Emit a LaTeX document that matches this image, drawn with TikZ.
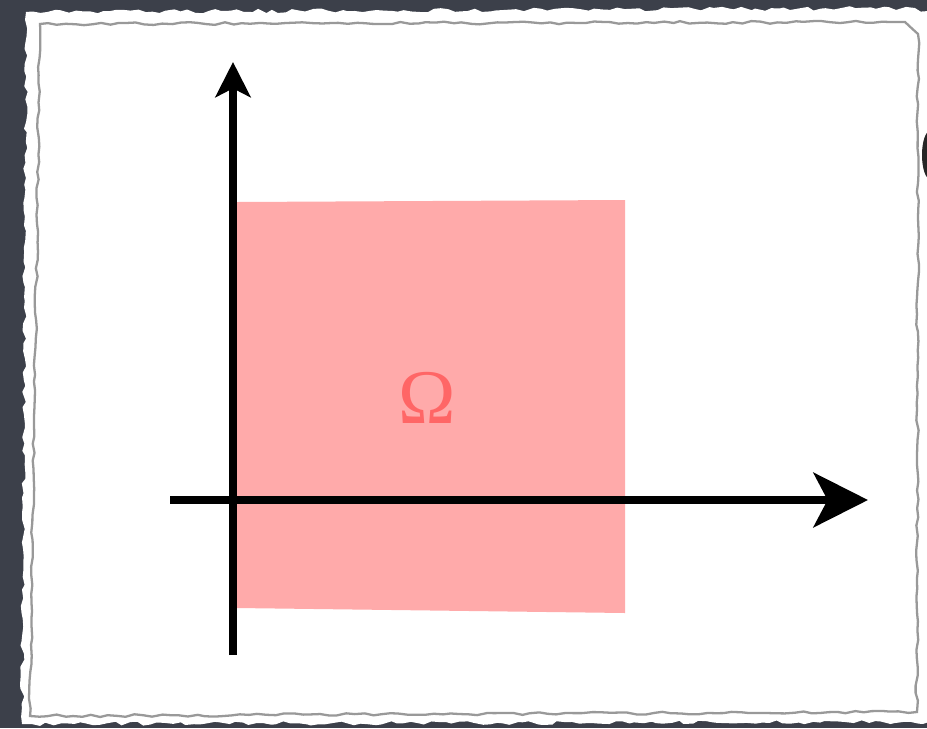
\documentclass[tikz,border=0pt]{standalone}
\usepackage{fontspec}
\newfontfamily\omegafont{Liberation Serif}
\usetikzlibrary{arrows.meta, decorations.pathmorphing}

\definecolor{slate}{HTML}{3C404A}
\definecolor{regionpink}{HTML}{FFAAAA}
\definecolor{omegared}{HTML}{FF6666}

\begin{document}
\pgfmathsetseed{7}
\begin{tikzpicture}[
    x=0.02cm, y=-0.02cm,
    paper/.style = {
        fill=white,
        decorate,
        decoration={random steps, segment length=4pt, amplitude=1.2pt}
    },
    edge/.style = {
        draw=gray!80,
        line width=1.3pt,
        decorate,
        decoration={random steps, segment length=5pt, amplitude=0.8pt}
    },
    region/.style = {fill=regionpink, draw=none},
    axis/.style = {line width=4.5pt},
    label/.style = {text=omegared, font=\omegafont\fontsize{44}{44}\selectfont}
]

    % === BACKGROUND ===
    \useasboundingbox (0,0) rectangle (927,728);
    \fill[slate] (0,0) rectangle (927,728);

    % === PAPER ===
    \path[paper] (26,12) -- (915,8) -- (945,20) -- (945,722) -- (22,724) -- cycle;
    \path[edge] (40,24) -- (905,22) -- (918,34) -- (917,712) -- (30,716) -- cycle;
    \fill[black!85] (930,155) ellipse (8 and 24);

    % === DOMAIN ===
    \fill[region] (237,202) -- (625,200) -- (625,613) -- (237,608) -- cycle;
    \node[label] (omega) at (427,398) {Ω};

    % === AXES ===
    \coordinate (xstart) at (170,500);
    \coordinate (xend) at (868,500);
    \coordinate (ystart) at (233,655);
    \coordinate (yend) at (233,62);

    \draw[axis, -{Stealth[length=31pt, width=31pt, inset=8pt]}] (xstart) -- (xend);
    \draw[axis, -{Stealth[length=20pt, width=20pt, inset=5pt]}] (ystart) -- (yend);

\end{tikzpicture}
\end{document}
